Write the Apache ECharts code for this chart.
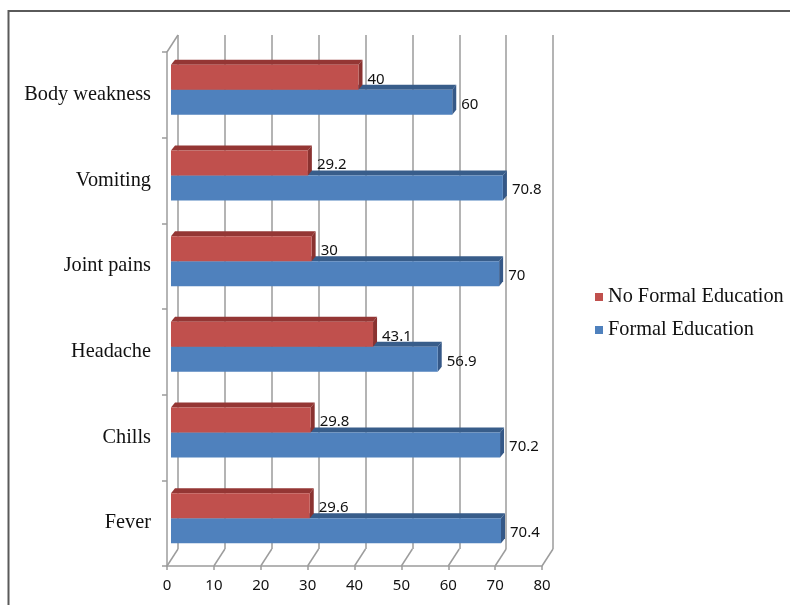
<!DOCTYPE html>
<html>
<head>
<meta charset="utf-8">
<title>Symptoms by education level</title>
<script src="https://cdn.jsdelivr.net/npm/echarts@6/dist/echarts.min.js"></script>
<style>
  html, body { margin: 0; padding: 0; background: #fff; }
  #chart { width: 790px; height: 605px; }
</style>
</head>
<body>
<div id="chart"></div>
<script>
// Symptom categories, listed top to bottom
const categories = ['Body weakness', 'Vomiting', 'Joint pains', 'Headache', 'Chills', 'Fever'];
// Percentages per group
const noFormalEducation = [40, 29.2, 30, 43.1, 29.8, 29.6];
const formalEducation = [60, 70.8, 70, 56.9, 70.2, 70.4];
// Value axis ticks
const xTicks = [0, 10, 20, 30, 40, 50, 60, 70, 80];
const seriesNames = ['No Formal Education', 'Formal Education'];

// Layout of the pseudo-3D box: front plane, back wall, and the plane the bars sit in
const FRONT = { left: 167, top: 52, width: 375, height: 514 };
const DEPTH = { x: 11, y: -17 };
const BAR_SHIFT = { x: 4, y: -5 };
const BAR_H = 25;
const BEVEL = { x: 4, y: -5 };

const COLORS = {
  red: { face: '#C0504D', top: '#943634', side: '#8A3230' },
  blue: { face: '#4F81BD', top: '#385D8A', side: '#355887' }
};
const GRID_COLOR = '#B4B4B4';
const AXIS_COLOR = '#9C9C9C';
const SERIF = 'Liberation Serif';
const SANS = 'Noto Sans';

const shifted = (g, d) => ({
  left: g.left + d.x, top: g.top + d.y, width: g.width, height: g.height,
  outerBoundsMode: 'none'
});

function barRenderer(palette, below) {
  return function (params, api) {
    const value = api.value(0);
    const cat = api.value(1);
    const start = api.coord([0, cat]);
    const end = api.coord([value, cat]);
    const x0 = start[0], x1 = end[0];
    const y0 = below ? start[1] : start[1] - BAR_H;
    const y1 = y0 + BAR_H;
    const bx = BEVEL.x, by = BEVEL.y;
    return {
      type: 'group',
      children: [
        {
          type: 'polygon',
          shape: { points: [[x0, y0], [x0 + bx, y0 + by], [x1 + bx, y0 + by], [x1, y0]] },
          style: { fill: palette.top }
        },
        {
          type: 'polygon',
          shape: { points: [[x1, y0], [x1 + bx, y0 + by], [x1 + bx, y1 + by], [x1, y1]] },
          style: { fill: palette.side }
        },
        {
          type: 'rect',
          shape: { x: x0, y: y0, width: x1 - x0, height: BAR_H },
          style: { fill: palette.face }
        },
        {
          type: 'text',
          style: {
            text: String(value),
            x: x1 + 9, y: (y0 + y1) / 2 + 2,
            verticalAlign: 'middle', align: 'left',
            font: '15px "' + SANS + '"', fill: '#111'
          }
        }
      ]
    };
  };
}

// Floor edges running from each front tick back to the wall, plus the top edge of the side wall
function floorRenderer(params, api) {
  const cs = params.coordSys;
  const x = api.coord([api.value(0), 0])[0];
  const bottom = cs.y + cs.height;
  const children = [{
    type: 'line',
    shape: { x1: x, y1: bottom, x2: x + DEPTH.x, y2: bottom + DEPTH.y },
    style: { stroke: AXIS_COLOR, lineWidth: 1.5 }
  }];
  if (params.dataIndex === 0) {
    children.push({
      type: 'line',
      shape: { x1: x, y1: cs.y, x2: x + DEPTH.x, y2: cs.y + DEPTH.y },
      style: { stroke: AXIS_COLOR, lineWidth: 1.5 }
    });
  }
  return { type: 'group', children };
}

const chart = echarts.init(document.getElementById('chart'), null, { renderer: 'canvas' });

chart.setOption({
  animation: false,
  backgroundColor: '#fff',
  grid: [
    Object.assign({}, FRONT, { outerBoundsMode: 'none' }),
    shifted(FRONT, DEPTH),
    shifted(FRONT, BAR_SHIFT)
  ],
  xAxis: [
    {
      gridIndex: 0, type: 'value', min: 0, max: 80, interval: 10,
      axisLine: { show: true, lineStyle: { color: AXIS_COLOR, width: 1.5 } },
      axisTick: { show: true, length: 4, lineStyle: { color: AXIS_COLOR, width: 1.5 } },
      splitLine: { show: false },
      axisLabel: { margin: 12, color: '#111', fontFamily: SANS, fontSize: 15 }
    },
    {
      gridIndex: 1, type: 'value', min: 0, max: 80, interval: 10,
      axisLine: { show: false }, axisTick: { show: false }, axisLabel: { show: false },
      splitLine: { show: true, showMinLine: true, showMaxLine: true, lineStyle: { color: GRID_COLOR, width: 2 } }
    },
    {
      gridIndex: 2, type: 'value', min: 0, max: 80, show: false
    }
  ],
  yAxis: [
    {
      gridIndex: 0, type: 'category', data: categories, inverse: true,
      axisLine: { show: true, lineStyle: { color: AXIS_COLOR, width: 1.5 } },
      axisTick: { show: true, length: 5, lineStyle: { color: AXIS_COLOR, width: 1.5 } },
      splitLine: { show: false },
      axisLabel: { margin: 16, color: '#111', fontFamily: SERIF, fontSize: 20.3 }
    },
    {
      gridIndex: 1, type: 'category', data: categories, inverse: true, show: false
    },
    {
      gridIndex: 2, type: 'category', data: categories, inverse: true, show: false
    }
  ],
  legend: {
    data: seriesNames,
    orient: 'vertical',
    left: 590, top: 282,
    icon: 'rect', itemWidth: 8, itemHeight: 8, itemGap: 13,
    textStyle: { fontFamily: SERIF, fontSize: 20.3, lineHeight: 20, color: '#111' }
  },
  graphic: [
    { type: 'line', shape: { x1: 8, y1: 11, x2: 790, y2: 11 }, style: { stroke: '#5A5A5A', lineWidth: 2 } },
    { type: 'line', shape: { x1: 8.5, y1: 10, x2: 8.5, y2: 605 }, style: { stroke: '#5A5A5A', lineWidth: 2 } }
  ],
  series: [
    {
      type: 'custom', name: 'floor', xAxisIndex: 0, yAxisIndex: 0,
      data: xTicks.map(v => [v, 0]), encode: { x: 0, y: 1 },
      renderItem: floorRenderer, silent: true, z: 1
    },
    {
      type: 'custom', name: seriesNames[1], xAxisIndex: 2, yAxisIndex: 2,
      itemStyle: { color: COLORS.blue.face },
      data: formalEducation.map((v, i) => [v, i]), encode: { x: 0, y: 1 },
      renderItem: barRenderer(COLORS.blue, true), z: 3
    },
    {
      type: 'custom', name: seriesNames[0], xAxisIndex: 2, yAxisIndex: 2,
      itemStyle: { color: COLORS.red.face },
      data: noFormalEducation.map((v, i) => [v, i]), encode: { x: 0, y: 1 },
      renderItem: barRenderer(COLORS.red, false), z: 4
    }
  ]
});
</script>
</body>
</html>
